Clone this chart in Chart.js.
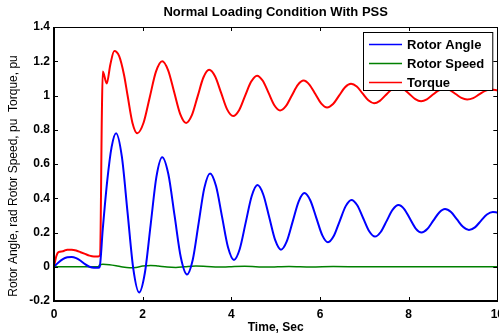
<!DOCTYPE html>
<html>
<head>
<meta charset="utf-8">
<script src="https://cdn.jsdelivr.net/npm/chart.js@4.4.1/dist/chart.umd.min.js"></script>
<style>
  html, body { margin: 0; padding: 0; background: #fff; overflow: hidden; }
  #wrap { width: 510px; height: 336px; }
</style>
</head>
<body>
<div id="wrap"><canvas id="chart" width="510" height="336"></canvas></div>
<script>
var titleText = "Normal Loading Condition With PSS";
var xTitle = "Time, Sec";
var yTitle = "Rotor Angle, rad Rotor Speed, pu  Torque, pu";
var xTicks = [0, 2, 4, 6, 8, 10];
var yTicks = [-0.2, 0, 0.2, 0.4, 0.6, 0.8, 1, 1.2, 1.4];
var seriesNames = ["Rotor Angle", "Rotor Speed", "Torque"];

// rotor angle, rad
var angleTime = [0, 0.1, 0.2, 0.3, 0.4, 0.5, 0.6, 0.7, 0.8, 0.9, 1.0, 1.03,
  1.1, 1.2, 1.3, 1.4, 1.53, 1.66, 1.79, 1.92, 2.05, 2.18, 2.31, 2.44,
  2.58, 2.72, 2.86, 3.0, 3.13, 3.26, 3.39, 3.52, 3.655, 3.79, 3.925, 4.06,
  4.19, 4.325, 4.46, 4.59, 4.72, 4.855, 4.99, 5.12, 5.25, 5.385, 5.52, 5.65,
  5.78, 5.915, 6.05, 6.18, 6.31, 6.445, 6.58, 6.71, 6.84, 6.975, 7.11, 7.24,
  7.37, 7.505, 7.64, 7.77, 7.9, 8.03, 8.16, 8.29, 8.42, 8.555, 8.69, 8.82,
  8.955, 9.09, 9.225, 9.36, 9.495, 9.63, 9.765, 9.9, 10];
var angleValue = [0, 0.025, 0.045, 0.055, 0.057, 0.05, 0.035, 0.015, 0.0, -0.006, -0.006, 0.0,
  0.22, 0.5, 0.7, 0.78, 0.644, 0.315, -0.014, -0.15, -0.035, 0.245, 0.525, 0.64,
  0.54, 0.298, 0.055, -0.045, 0.041, 0.25, 0.459, 0.545, 0.471, 0.293, 0.114, 0.04,
  0.104, 0.259, 0.413, 0.477, 0.422, 0.289, 0.155, 0.10, 0.148, 0.265, 0.382, 0.43,
  0.388, 0.287, 0.185, 0.143, 0.179, 0.267, 0.354, 0.39, 0.359, 0.283, 0.207, 0.176,
  0.203, 0.268, 0.333, 0.36, 0.337, 0.28, 0.223, 0.2, 0.22, 0.269, 0.317, 0.337,
  0.319, 0.276, 0.233, 0.215, 0.23, 0.268, 0.305, 0.32, 0.317];

// rotor speed, pu
var speedTime = [0, 1.0, 1.03, 1.1, 1.25, 1.4, 1.55, 1.7, 1.85, 2.0, 2.18, 2.35,
  2.55, 2.75, 2.95, 3.2, 3.45, 3.7, 3.95, 4.3, 4.8, 5.3, 5.8, 6.3, 7, 10];
var speedValue = [0, 0, 0.012, 0.014, 0.012, 0.006, -0.002, -0.006, -0.004, 0.004, 0.008, 0.004,
  -0.002, -0.004, 0.0, 0.004, 0.002, -0.002, 0.0, 0.003, -0.002, 0.002, -0.001, 0.001, 0, 0];

// electrical torque, pu
var torqueTime = [0, 0.05, 0.1, 0.2, 0.3, 0.4, 0.5, 0.6, 0.7, 0.8, 0.9, 1.0, 1.04, 1.08,
  1.1, 1.19, 1.27, 1.36, 1.47, 1.58, 1.66, 1.77, 1.88, 2.02, 2.16, 2.3, 2.44,
  2.575, 2.71, 2.845, 2.98, 3.11, 3.24, 3.37, 3.5, 3.635, 3.77, 3.905, 4.04,
  4.175, 4.31, 4.445, 4.58, 4.71, 4.84, 4.97, 5.1, 5.23, 5.365, 5.5, 5.63,
  5.76, 5.895, 6.03, 6.16, 6.295, 6.43, 6.565, 6.7, 6.83, 6.96, 7.09, 7.22,
  7.35, 7.485, 7.62, 7.75, 7.88, 8.015, 8.15, 8.28, 8.41, 8.54, 8.67, 8.8,
  8.93, 9.06, 9.19, 9.32, 9.455, 9.59, 9.725, 9.86, 10];
var torqueValue = [0, 0.06, 0.085, 0.09, 0.1, 0.1, 0.095, 0.085, 0.075, 0.065, 0.06, 0.06, 0.07, 0.9,
  1.14, 1.07, 1.18, 1.26, 1.23, 1.12, 1.0, 0.84, 0.78, 0.841, 0.99, 1.139, 1.2,
  1.147, 1.02, 0.893, 0.84, 0.885, 0.995, 1.105, 1.15, 1.111, 1.015, 0.919, 0.88,
  0.914, 0.998, 1.08, 1.116, 1.086, 1.015, 0.943, 0.913, 0.938, 1.0, 1.062, 1.087,
  1.064, 1.009, 0.953, 0.93, 0.95, 0.999, 1.048, 1.068, 1.052, 1.012, 0.972, 0.955,
  0.969, 1.003, 1.036, 1.05, 1.038, 1.009, 0.979, 0.967, 0.978, 1.004, 1.029, 1.04,
  1.031, 1.009, 0.986, 0.977, 0.985, 1.006, 1.027, 1.035, 1.03];

function toPoints(ts, vs) {
    var pts = [];
    for (var i = 0; i < ts.length; i++) pts.push({x: ts[i], y: vs[i]});
    return pts;
}

var fontFamily = "'Liberation Sans', Arial, sans-serif";

// MATLAB-like frame: box, inward ticks, title, y label, legend box
var matlabFrame = {
    id: 'matlabFrame',
    afterDraw: function(chart) {
        var ctx = chart.ctx, a = chart.chartArea;
        var sx = chart.scales.x, sy = chart.scales.y;
        ctx.save();
        ctx.strokeStyle = '#000';
        ctx.lineWidth = 1;
        ctx.beginPath();
        xTicks.forEach(function(v) {
            var px = Math.round(sx.getPixelForValue(v)) + 0.5;
            ctx.moveTo(px, a.bottom); ctx.lineTo(px, a.bottom - 4);
            ctx.moveTo(px, a.top); ctx.lineTo(px, a.top + 4);
        });
        yTicks.forEach(function(v) {
            var py = Math.round(sy.getPixelForValue(v)) + 0.5;
            ctx.moveTo(a.left, py); ctx.lineTo(a.left + 4, py);
            ctx.moveTo(a.right, py); ctx.lineTo(a.right - 4, py);
        });
        ctx.stroke();
        ctx.strokeRect(Math.round(a.left) + 0.5, Math.round(a.top) + 0.5,
                       Math.round(a.right - a.left), Math.round(a.bottom - a.top));
        ctx.lineWidth = 2;
        ctx.beginPath();
        ctx.moveTo(Math.round(a.left), a.top); ctx.lineTo(Math.round(a.left), Math.round(a.bottom));
        ctx.lineTo(a.right, Math.round(a.bottom));
        ctx.stroke();

        // title over the axes
        ctx.fillStyle = '#000';
        ctx.font = "bold 13px " + fontFamily;
        ctx.textAlign = 'center';
        ctx.textBaseline = 'middle';
        ctx.fillText(titleText, (a.left + a.right) / 2, 12);

        // y label
        ctx.save();
        ctx.translate(14, 176);
        ctx.rotate(-Math.PI / 2);
        ctx.font = "12px " + fontFamily;
        ctx.fillText(yTitle, 0, 0);
        ctx.restore();

        // legend
        var ds = chart.data.datasets;
        ctx.font = "bold 13px " + fontFamily;
        var tw = 0;
        ds.forEach(function(d) { tw = Math.max(tw, ctx.measureText(d.label).width); });
        var bw = 6 + 33 + 5 + tw + 8, bh = 58;
        var bx = Math.round(a.right - 5 - bw), by = Math.round(a.top + 5);
        ctx.fillStyle = '#fff';
        ctx.fillRect(bx, by, bw, bh);
        ctx.lineWidth = 1;
        ctx.strokeStyle = '#000';
        ctx.strokeRect(bx + 0.5, by + 0.5, bw, bh);
        ctx.textAlign = 'left';
        ds.forEach(function(d, i) {
            var ly = by + 12.5 + i * 19;
            ctx.strokeStyle = d.borderColor;
            ctx.lineWidth = 1.5;
            ctx.beginPath();
            ctx.moveTo(bx + 6, ly); ctx.lineTo(bx + 39, ly);
            ctx.stroke();
            ctx.fillStyle = '#000';
            ctx.fillText(d.label, bx + 44, ly + 1);
        });
        ctx.restore();
    }
};

var ctx = document.getElementById("chart").getContext('2d');
var chart = new Chart(ctx, {
    type: 'line',
    data: {
        datasets: [{
            label: seriesNames[0],
            data: toPoints(angleTime, angleValue),
            borderColor: '#0000ff',
            borderWidth: 2
        }, {
            label: seriesNames[1],
            data: toPoints(speedTime, speedValue),
            borderColor: '#008000',
            borderWidth: 1.5
        }, {
            label: seriesNames[2],
            data: toPoints(torqueTime, torqueValue),
            borderColor: '#ff0000',
            borderWidth: 2
        }]
    },
    options: {
        responsive: false,
        animation: false,
        cubicInterpolationMode: 'monotone',
        elements: { point: { radius: 0 } },
        layout: { padding: { top: 27, right: 8, left: 0, bottom: 0 } },
        plugins: {
            legend: { display: false },
            title: { display: false },
            tooltip: { enabled: false }
        },
        scales: {
            x: {
                type: 'linear',
                min: xTicks[0],
                max: xTicks[xTicks.length - 1],
                afterBuildTicks: function(s) { s.ticks = xTicks.map(function(v) { return {value: v}; }); },
                afterFit: function(s) { s.height = 35; },
                grid: { display: false, drawTicks: false },
                border: { display: false },
                ticks: { color: '#000', padding: 6, maxRotation: 0, font: { family: fontFamily, size: 12, weight: 'bold' } },
                title: { display: true, text: xTitle, color: '#000', padding: { top: 0, bottom: 1 }, font: { family: fontFamily, size: 12, weight: 'bold' } }
            },
            y: {
                min: yTicks[0],
                max: yTicks[yTicks.length - 1],
                afterBuildTicks: function(s) { s.ticks = yTicks.map(function(v) { return {value: v}; }); },
                afterFit: function(s) { s.width = 54; },
                grid: { display: false, drawTicks: false },
                border: { display: false },
                ticks: {
                    color: '#000', padding: 4,
                    font: { family: fontFamily, size: 12, weight: 'bold' },
                    callback: function(v) { return String(parseFloat(v.toFixed(1))); }
                }
            }
        }
    },
    plugins: [matlabFrame]
});
</script>
</body>
</html>
